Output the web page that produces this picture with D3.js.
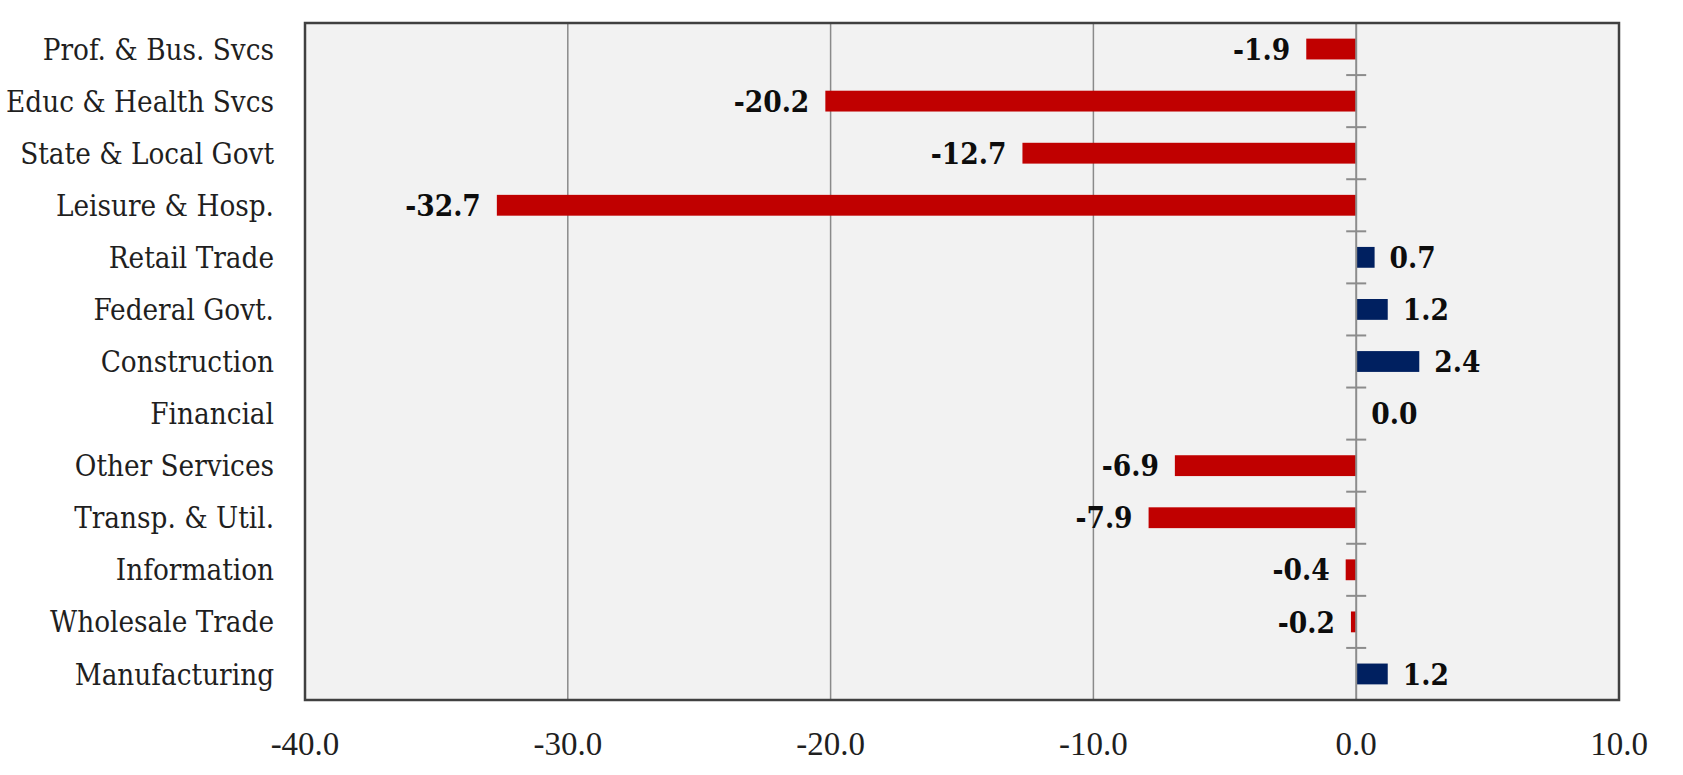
<!DOCTYPE html>
<html>
<head>
<meta charset="utf-8">
<script src="https://cdn.jsdelivr.net/npm/d3@7"></script>
<style>
  html, body { margin: 0; padding: 0; background: #ffffff; }
  svg { display: block; }
</style>
</head>
<body>
<svg id="chart" width="1683" height="775"></svg>
<script>
const categories = ["Prof. & Bus. Svcs", "Educ & Health Svcs", "State & Local Govt", "Leisure & Hosp.", "Retail Trade", "Federal Govt.", "Construction", "Financial", "Other Services", "Transp. & Util.", "Information", "Wholesale Trade", "Manufacturing"];
const values = [-1.9, -20.2, -12.7, -32.7, 0.7, 1.2, 2.4, 0.0, -6.9, -7.9, -0.4, -0.2, 1.2];
const xTicks = [-40, -30, -20, -10, 0, 10];

(function () {
const svg = d3.select("#chart");
const pL = 305, pR = 1619, pT = 23, pB = 700;

const x = d3.scaleLinear().domain([-40, 10]).range([pL, pR]);
const y = d3.scaleBand().domain(categories).range([pT, pB]).paddingInner(0.6).paddingOuter(0.3);
const yb = d3.scaleBand().domain(categories).range([pT, pB]);

const data = categories.map((c, i) => ({ cat: c, val: values[i] }));

// plot background
svg.append("rect").attr("x", pL).attr("y", pT).attr("width", pR - pL).attr("height", pB - pT)
  .attr("fill", "#f2f2f2");

// vertical gridlines
svg.append("g").selectAll("line").data(xTicks.filter(t => t > -40 && t < 10 && t !== 0)).join("line")
  .attr("x1", d => x(d)).attr("x2", d => x(d)).attr("y1", pT).attr("y2", pB)
  .attr("stroke", "#8a8a8a").attr("stroke-width", 1.5);

// bars
svg.append("g").selectAll("rect").data(data).join("rect")
  .attr("x", d => x(Math.min(0, d.val)))
  .attr("width", d => Math.abs(x(d.val) - x(0)))
  .attr("y", d => y(d.cat))
  .attr("height", y.bandwidth())
  .attr("fill", d => d.val < 0 ? "#c00000" : "#002060");

// zero axis with category-boundary ticks
const bounds = categories.map(c => yb(c)).concat([pB]);
const zg = svg.append("g");
zg.append("line").attr("x1", x(0)).attr("x2", x(0)).attr("y1", pT).attr("y2", pB)
  .attr("stroke", "#8c8c8c").attr("stroke-width", 2);
zg.selectAll("line.tk").data(bounds).join("line").attr("class", "tk")
  .attr("x1", x(0) - 10).attr("x2", x(0) + 10).attr("y1", d => d).attr("y2", d => d)
  .attr("stroke", "#8c8c8c").attr("stroke-width", 2);

// border
svg.append("rect").attr("x", pL).attr("y", pT).attr("width", pR - pL).attr("height", pB - pT)
  .attr("fill", "none").attr("stroke", "#404040").attr("stroke-width", 2.5);

// data labels
svg.append("g").selectAll("text").data(data).join("text")
  .attr("x", d => d.val < 0 ? x(d.val) - 16 : x(d.val) + 15)
  .attr("y", d => y(d.cat) + y.bandwidth() / 2)
  .attr("dy", "0.36em")
  .attr("text-anchor", d => d.val < 0 ? "end" : "start")
  .attr("font-family", "'DejaVu Serif Condensed', 'DejaVu Serif', serif")
  .attr("font-stretch", "condensed")
  .attr("font-weight", "bold")
  .attr("font-size", 29.5)
  .attr("fill", "#0d0d0d")
  .text(d => d.val.toFixed(1));

// category labels
svg.append("g").selectAll("text").data(categories).join("text")
  .attr("x", pL - 31)
  .attr("y", d => yb(d) + yb.bandwidth() / 2)
  .attr("dy", "0.36em")
  .attr("text-anchor", "end")
  .attr("font-family", "'DejaVu Serif Condensed', 'DejaVu Serif', serif")
  .attr("font-stretch", "condensed")
  .attr("font-size", 29.3)
  .attr("fill", "#1f1f1f")
  .text(d => d);

// x tick labels
svg.append("g").selectAll("text").data(xTicks).join("text")
  .attr("x", d => x(d))
  .attr("y", 743)
  .attr("dy", "0.36em")
  .attr("text-anchor", "middle")
  .attr("font-family", "'Liberation Serif', serif")
  .attr("font-size", 33)
  .attr("fill", "#1f1f1f")
  .text(d => d.toFixed(1));
})();
</script>
</body>
</html>
